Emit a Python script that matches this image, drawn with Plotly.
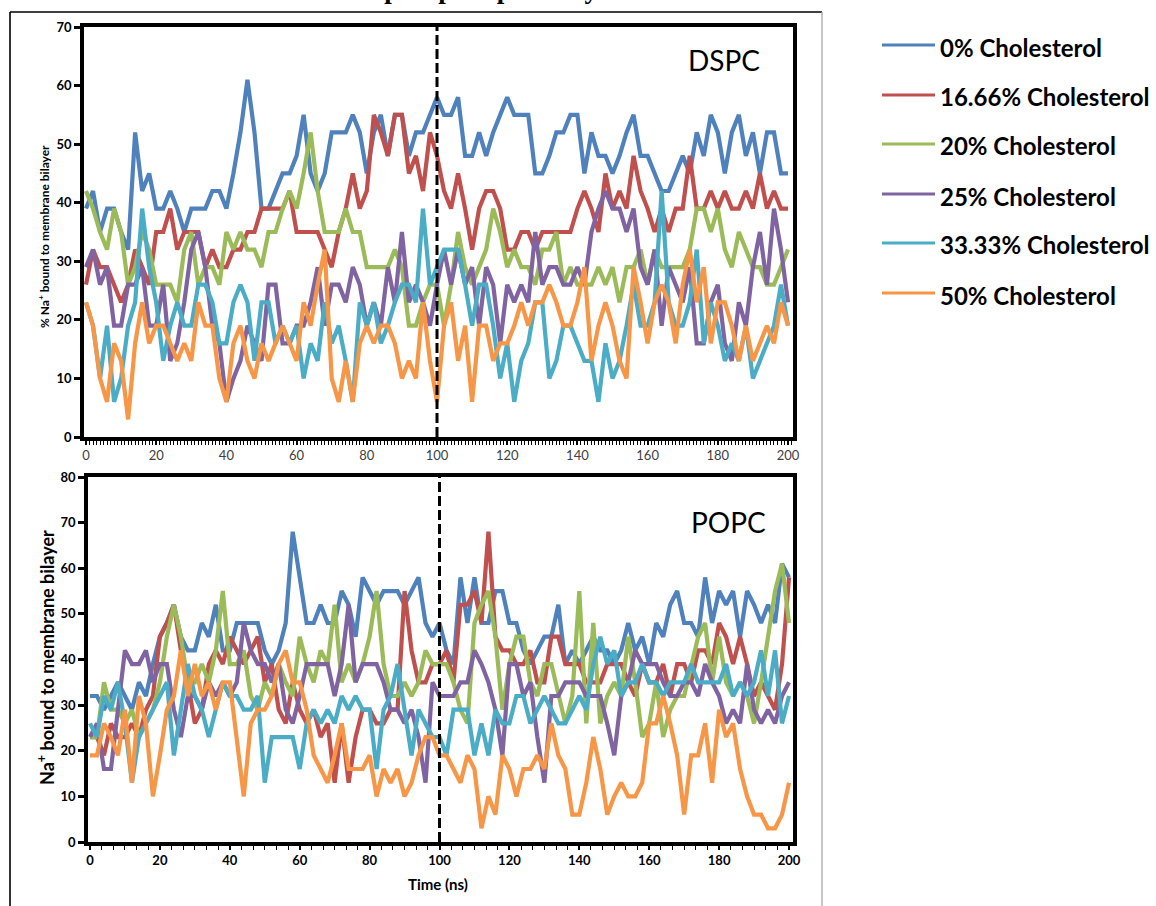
import plotly.graph_objects as go

# Percentage of Na+ bound to the membrane bilayer, sampled every 2 ns
TIME_NS = list(range(0, 201, 2))

SERIES_NAMES = ["0% Cholesterol", "16.66% Cholesterol", "20% Cholesterol",
                "25% Cholesterol", "33.33% Cholesterol", "50% Cholesterol"]
SERIES_COLORS = ["#4F81BD", "#C0504D", "#9BBB59", "#8064A2", "#4BACC6", "#F79646"]

# ---- DSPC bilayer ----
DSPC_0 = [
    39, 42, 35, 39, 39, 35, 32, 52, 42, 45,
    39, 39, 42, 39, 35, 39, 39, 39, 42, 42,
    39, 45, 52, 61, 52, 39, 39, 42, 45, 45,
    48, 55, 45, 42, 45, 52, 52, 52, 55, 52,
    45, 52, 55, 48, 55, 55, 48, 52, 52, 55,
    58, 55, 55, 58, 48, 48, 52, 48, 52, 55,
    58, 55, 55, 55, 45, 45, 48, 52, 52, 55,
    55, 45, 52, 48, 48, 45, 48, 52, 55, 48,
    48, 45, 42, 42, 45, 48, 45, 52, 48, 55,
    52, 45, 52, 55, 48, 52, 45, 52, 52, 45,
    45]
DSPC_16 = [
    26, 32, 29, 29, 26, 23, 26, 32, 29, 26,
    35, 35, 39, 32, 35, 35, 35, 29, 32, 29,
    29, 32, 32, 35, 35, 39, 39, 39, 39, 42,
    35, 35, 35, 35, 32, 29, 35, 39, 45, 39,
    42, 55, 52, 48, 55, 55, 45, 48, 42, 52,
    48, 42, 39, 45, 39, 32, 39, 42, 42, 39,
    32, 32, 35, 35, 32, 35, 35, 35, 35, 35,
    39, 42, 39, 35, 45, 39, 42, 39, 48, 42,
    39, 35, 39, 35, 39, 39, 48, 39, 39, 42,
    39, 42, 39, 39, 42, 39, 45, 39, 42, 39,
    39]
DSPC_20 = [
    42, 39, 35, 32, 39, 35, 26, 29, 35, 32,
    26, 26, 26, 23, 32, 35, 26, 29, 29, 26,
    35, 32, 35, 32, 32, 29, 35, 35, 39, 42,
    39, 45, 52, 42, 35, 35, 35, 39, 35, 35,
    29, 29, 29, 29, 32, 29, 19, 19, 23, 26,
    26, 19, 26, 35, 29, 26, 29, 32, 39, 35,
    29, 32, 29, 29, 26, 32, 32, 35, 26, 29,
    26, 26, 26, 29, 26, 29, 23, 29, 29, 32,
    26, 32, 29, 29, 29, 29, 32, 39, 39, 35,
    39, 32, 29, 35, 32, 29, 29, 26, 26, 29,
    32]
DSPC_25 = [
    29, 32, 26, 29, 19, 19, 26, 26, 29, 19,
    19, 26, 13, 16, 23, 32, 35, 29, 19, 16,
    6, 10, 13, 19, 16, 13, 26, 26, 16, 16,
    19, 19, 23, 29, 19, 26, 26, 23, 29, 26,
    19, 23, 19, 29, 23, 35, 23, 26, 23, 19,
    26, 32, 26, 32, 26, 29, 19, 29, 26, 16,
    26, 23, 26, 23, 35, 26, 29, 29, 26, 26,
    29, 26, 35, 39, 42, 39, 39, 35, 39, 29,
    26, 32, 19, 29, 26, 23, 29, 16, 16, 23,
    26, 16, 13, 23, 19, 29, 35, 26, 39, 32,
    23]
DSPC_33 = [
    23, 19, 10, 19, 6, 10, 19, 23, 39, 29,
    23, 13, 19, 23, 19, 19, 26, 26, 23, 16,
    16, 23, 26, 23, 13, 23, 23, 16, 19, 16,
    19, 10, 16, 13, 23, 16, 19, 13, 6, 23,
    19, 23, 16, 19, 23, 26, 26, 23, 39, 26,
    29, 32, 32, 32, 26, 19, 26, 26, 19, 10,
    16, 6, 13, 16, 23, 23, 10, 13, 19, 19,
    16, 13, 13, 6, 16, 10, 13, 19, 26, 19,
    19, 23, 42, 23, 19, 19, 23, 32, 16, 23,
    19, 13, 16, 13, 19, 10, 13, 16, 19, 26,
    19]
DSPC_50 = [
    23, 19, 10, 6, 16, 13, 3, 16, 23, 16,
    19, 19, 16, 13, 16, 13, 23, 19, 19, 10,
    6, 16, 19, 13, 10, 16, 13, 16, 19, 16,
    13, 23, 19, 26, 32, 10, 6, 13, 6, 16,
    19, 16, 19, 19, 16, 10, 13, 10, 23, 13,
    6, 19, 23, 13, 19, 6, 19, 19, 13, 16,
    16, 19, 23, 19, 23, 23, 26, 23, 19, 19,
    23, 29, 13, 19, 23, 19, 13, 10, 29, 23,
    16, 23, 26, 23, 16, 26, 32, 23, 29, 16,
    23, 23, 19, 13, 19, 13, 16, 19, 16, 23,
    19]

# ---- POPC bilayer ----
POPC_0 = [
    32, 32, 29, 32, 35, 32, 29, 35, 32, 39,
    45, 48, 52, 45, 42, 42, 48, 45, 52, 42,
    42, 48, 48, 48, 48, 42, 39, 42, 48, 68,
    58, 48, 48, 52, 48, 48, 55, 52, 45, 58,
    55, 52, 55, 55, 55, 52, 55, 58, 48, 45,
    48, 42, 39, 58, 48, 58, 48, 48, 55, 55,
    48, 48, 42, 39, 42, 45, 45, 52, 39, 42,
    39, 42, 45, 42, 42, 39, 42, 48, 42, 45,
    39, 48, 45, 52, 55, 48, 48, 45, 58, 48,
    55, 52, 55, 45, 55, 52, 48, 52, 48, 61,
    58]
POPC_16 = [
    23, 23, 19, 26, 23, 23, 26, 23, 29, 32,
    45, 48, 52, 42, 35, 26, 29, 39, 42, 39,
    45, 42, 39, 42, 45, 35, 39, 29, 26, 35,
    29, 26, 29, 23, 26, 13, 26, 13, 23, 29,
    29, 26, 26, 29, 29, 55, 42, 35, 35, 39,
    39, 42, 35, 52, 52, 55, 48, 68, 45, 42,
    42, 39, 39, 42, 35, 35, 45, 45, 39, 39,
    39, 35, 35, 35, 39, 39, 39, 35, 32, 39,
    35, 35, 39, 32, 39, 39, 35, 42, 42, 39,
    48, 45, 39, 45, 39, 32, 35, 32, 29, 39,
    58]
POPC_20 = [
    23, 23, 35, 29, 29, 26, 29, 23, 26, 29,
    35, 45, 52, 45, 35, 35, 39, 35, 42, 55,
    39, 39, 42, 32, 29, 35, 32, 39, 35, 32,
    45, 39, 35, 42, 39, 52, 35, 39, 35, 39,
    45, 55, 39, 32, 32, 35, 32, 35, 42, 39,
    39, 39, 35, 29, 26, 48, 52, 55, 45, 29,
    39, 45, 45, 35, 32, 39, 39, 32, 26, 32,
    55, 26, 48, 26, 32, 35, 32, 45, 35, 23,
    26, 35, 23, 29, 32, 32, 39, 45, 48, 35,
    45, 35, 32, 35, 32, 26, 35, 45, 55, 61,
    48]
POPC_25 = [
    23, 26, 16, 16, 29, 42, 39, 39, 42, 35,
    39, 39, 29, 23, 32, 32, 29, 35, 32, 35,
    32, 35, 48, 42, 39, 39, 35, 39, 29, 26,
    32, 39, 39, 39, 39, 32, 39, 52, 35, 39,
    39, 39, 35, 29, 29, 26, 29, 23, 13, 35,
    32, 32, 32, 35, 35, 42, 39, 35, 29, 19,
    39, 39, 32, 35, 23, 13, 32, 32, 35, 35,
    35, 32, 32, 32, 26, 19, 32, 35, 42, 39,
    39, 39, 35, 32, 32, 35, 35, 32, 39, 35,
    32, 26, 29, 26, 39, 29, 26, 29, 26, 32,
    35]
POPC_33 = [
    26, 23, 32, 29, 35, 26, 13, 23, 26, 29,
    32, 35, 19, 29, 39, 32, 29, 23, 29, 35,
    32, 32, 29, 29, 32, 13, 23, 23, 23, 23,
    16, 26, 29, 26, 29, 26, 32, 29, 32, 29,
    29, 16, 29, 32, 39, 29, 19, 29, 26, 23,
    23, 19, 29, 29, 29, 19, 26, 19, 29, 26,
    26, 32, 32, 26, 29, 32, 29, 26, 26, 29,
    32, 29, 39, 45, 39, 42, 32, 35, 35, 39,
    35, 35, 32, 35, 35, 35, 39, 35, 35, 35,
    35, 39, 32, 35, 32, 35, 42, 32, 42, 26,
    32]
POPC_50 = [
    19, 19, 26, 23, 19, 29, 13, 32, 26, 10,
    19, 29, 32, 42, 32, 39, 32, 35, 29, 35,
    35, 23, 10, 26, 29, 29, 32, 39, 42, 35,
    35, 29, 19, 16, 13, 19, 26, 16, 16, 16,
    19, 10, 16, 13, 16, 10, 13, 19, 23, 23,
    19, 19, 16, 13, 19, 16, 3, 10, 6, 19,
    16, 10, 16, 16, 19, 16, 26, 19, 16, 6,
    6, 13, 23, 16, 6, 10, 13, 10, 10, 13,
    26, 26, 32, 26, 19, 6, 19, 19, 26, 13,
    29, 23, 26, 16, 10, 6, 6, 3, 3, 6,
    13]

DSPC_SERIES = [DSPC_0, DSPC_16, DSPC_20, DSPC_25, DSPC_33, DSPC_50]
POPC_SERIES = [POPC_0, POPC_16, POPC_20, POPC_25, POPC_33, POPC_50]

W, H = 1156, 906
FONT = "Lato"
LINE_W = 4.2


def fx(px):
    return px / W


def fy(px):
    return 1 - px / H


fig = go.Figure()

for vals, name, color in zip(DSPC_SERIES, SERIES_NAMES, SERIES_COLORS):
    fig.add_trace(go.Scatter(x=TIME_NS, y=vals, mode="lines", name=name,
                             line=dict(color=color, width=LINE_W),
                             xaxis="x", yaxis="y", showlegend=False))
for vals, name, color in zip(POPC_SERIES, SERIES_NAMES, SERIES_COLORS):
    fig.add_trace(go.Scatter(x=TIME_NS, y=vals, mode="lines", name=name,
                             line=dict(color=color, width=LINE_W),
                             xaxis="x2", yaxis="y2", showlegend=False))

frame = dict(showline=True, linewidth=3.5, linecolor="black", mirror=True,
             showgrid=False, zeroline=False, automargin=False)
ytick_font = dict(family=FONT, size=13, color="black", weight="bold")

fig.update_layout(
    template="none",
    width=W, height=H,
    margin=dict(l=0, r=0, t=0, b=0, autoexpand=False),
    paper_bgcolor="white", plot_bgcolor="white",
    showlegend=False,
    xaxis=dict(domain=[fx(84), fx(793)], range=[-0.57, 201.42], anchor="y",
               tickmode="linear", tick0=0, dtick=20, ticks="outside",
               ticklen=4, tickwidth=1.5, tickcolor="black",
               minor=dict(ticks="outside", dtick=1, ticklen=4, tickwidth=1.2,
                          tickcolor="black"),
               tickfont=dict(family=FONT, size=13, color="#404040"), **frame),
    yaxis=dict(domain=[fy(437), fy(27)], range=[0, 70], anchor="x",
               tickmode="linear", tick0=0, dtick=10, ticks="outside",
               ticklen=6, tickwidth=2.5, tickcolor="black",
               tickfont=ytick_font, **frame),
    xaxis2=dict(domain=[fx(88), fx(793)], range=[-0.57, 201.14], anchor="y2",
                tickmode="linear", tick0=0, dtick=20, ticks="outside",
                ticklen=4, tickwidth=1.5, tickcolor="black",
                minor=dict(ticks="outside", dtick=10 / 3, ticklen=4,
                           tickwidth=1.2, tickcolor="black"),
                tickfont=dict(family=FONT, size=13, color="black", weight="bold"),
                **frame),
    yaxis2=dict(domain=[fy(842), fy(477)], range=[0, 80], anchor="x2",
                tickmode="linear", tick0=0, dtick=10, ticks="outside",
                ticklen=6, tickwidth=2.5, tickcolor="black",
                tickfont=ytick_font, **frame),
)

shapes = []
# dashed marker at t = 100 ns in both panels
for xr, yr in (("x", "y domain"), ("x2", "y2 domain")):
    shapes.append(dict(type="line", xref=xr, yref=yr, x0=100, x1=100, y0=0, y1=1,
                       line=dict(color="black", width=3, dash="10px,4px")))

# outer frame of the figure panel
shapes.append(dict(type="line", xref="paper", yref="paper",
                   x0=fx(10), x1=fx(822), y0=fy(12), y1=fy(12),
                   line=dict(color="black", width=1.6)))
shapes.append(dict(type="line", xref="paper", yref="paper",
                   x0=fx(10), x1=fx(10), y0=fy(12), y1=fy(906),
                   line=dict(color="black", width=1.6)))
shapes.append(dict(type="line", xref="paper", yref="paper",
                   x0=fx(822), x1=fx(822), y0=fy(12), y1=fy(906),
                   line=dict(color="#a0a0a0", width=1.2)))

annotations = []
# legend drawn beside the panels
LEG_Y = [45, 95, 144, 194, 243, 293]
for yc, name, color in zip(LEG_Y, SERIES_NAMES, SERIES_COLORS):
    shapes.append(dict(type="line", xref="paper", yref="paper",
                       x0=fx(882), x1=fx(935), y0=fy(yc), y1=fy(yc),
                       line=dict(color=color, width=3)))
    annotations.append(dict(xref="paper", yref="paper", x=fx(938), y=fy(yc + 2),
                            xanchor="left", yanchor="middle", showarrow=False,
                            text=name,
                            font=dict(family=FONT, size=24, color="black",
                                      weight="bold")))

annotations += [
    dict(xref="paper", yref="paper", x=fx(724), y=fy(60), text="DSPC",
         showarrow=False, xanchor="center", yanchor="middle",
         font=dict(family=FONT, size=28, color="black")),
    dict(xref="paper", yref="paper", x=fx(729), y=fy(522), text="POPC",
         showarrow=False, xanchor="center", yanchor="middle",
         font=dict(family=FONT, size=28, color="black")),
    dict(xref="paper", yref="paper", x=fx(44), y=fy(237), textangle=-90,
         text="% Na<sup>+</sup> bound to membrane bilayer", showarrow=False,
         xanchor="center", yanchor="middle",
         font=dict(family=FONT, size=12, color="black", weight="bold")),
    dict(xref="paper", yref="paper", x=fx(46), y=fy(658), textangle=-90,
         text="Na<sup>+</sup> bound to membrane bilayer", showarrow=False,
         xanchor="center", yanchor="middle",
         font=dict(family=FONT, size=18, color="black", weight="bold")),
    dict(xref="paper", yref="paper", x=fx(438), y=fy(884), text="Time (ns)",
         showarrow=False, xanchor="center", yanchor="middle",
         font=dict(family=FONT, size=15, color="black", weight="bold")),
    dict(xref="paper", yref="paper", x=fx(372), y=fy(-13),
         text="Interaction of Na<sup>+</sup> with phospholipid bilayers",
         showarrow=False, xanchor="center", yanchor="middle",
         font=dict(family="Liberation Serif", size=27, color="black",
                   weight="bold")),
]

fig.update_layout(shapes=shapes, annotations=annotations)

fig.write_html("out.html")
